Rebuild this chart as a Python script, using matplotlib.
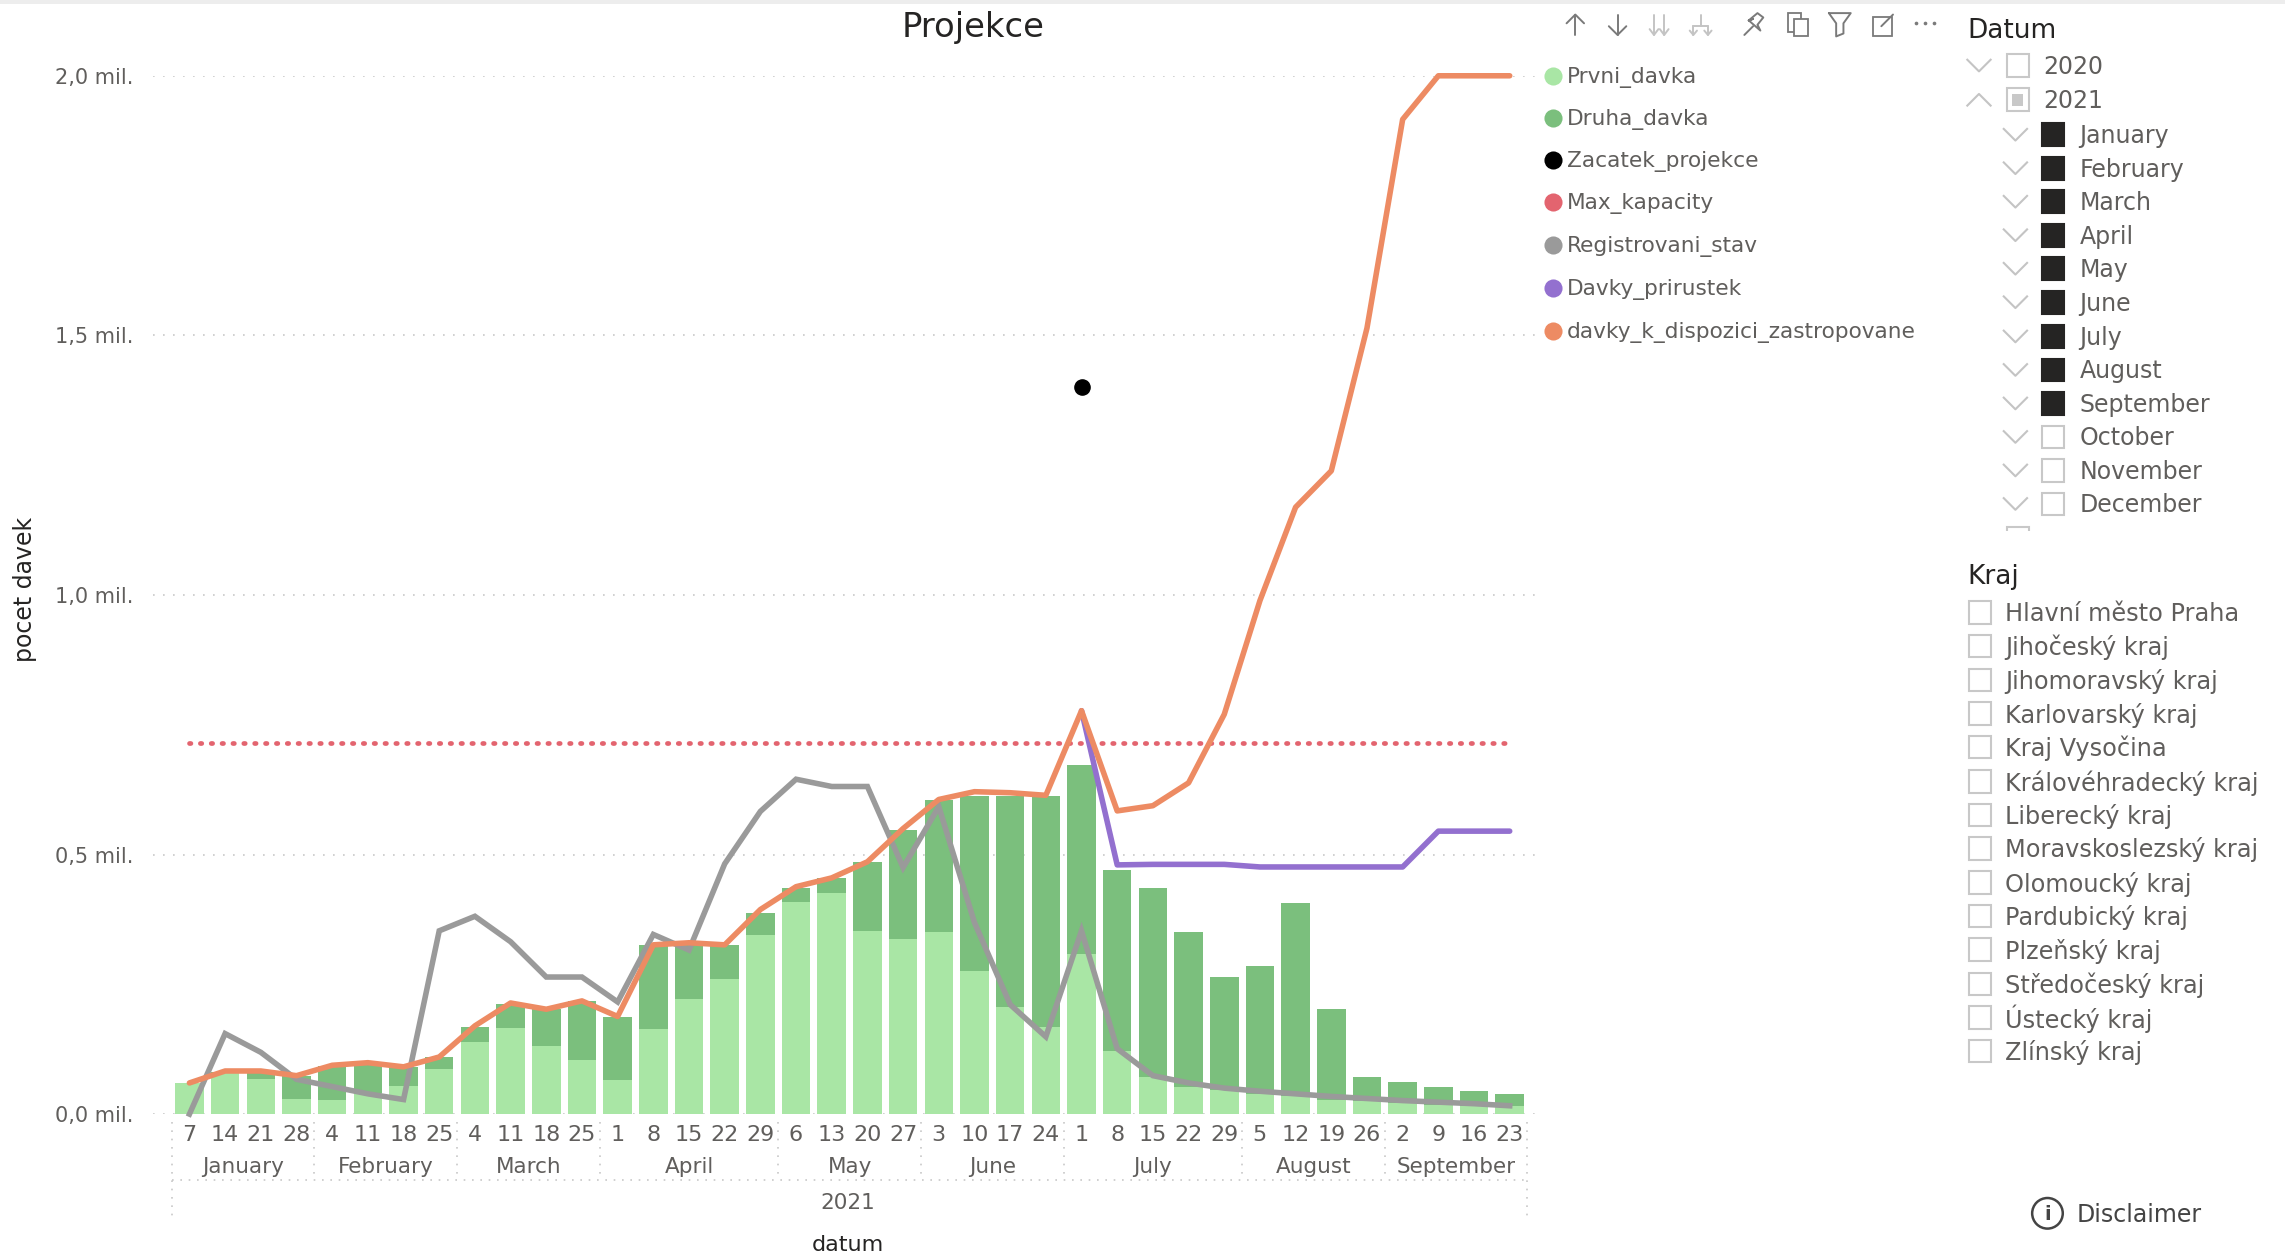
import numpy as np
import matplotlib
matplotlib.use('Agg')
import matplotlib.pyplot as plt
from matplotlib.patches import Rectangle, Circle

plt.rcParams['font.family'] = ['DejaVu Sans']

# data
months = ['January', 'February', 'March', 'April', 'May', 'June', 'July', 'August', 'September']
month_days = [[7, 14, 21, 28], [4, 11, 18, 25], [4, 11, 18, 25], [1, 8, 15, 22, 29], [6, 13, 20, 27],
              [3, 10, 17, 24], [1, 8, 15, 22, 29], [5, 12, 19, 26], [2, 9, 16, 23]]

prvni_davka = [0.060, 0.079, 0.067, 0.030, 0.028, 0.040, 0.055, 0.087, 0.138, 0.165, 0.131, 0.105, 0.065,
               0.163, 0.221, 0.260, 0.344, 0.409, 0.426, 0.352, 0.337, 0.350, 0.275, 0.206, 0.167, 0.309,
               0.121, 0.072, 0.052, 0.046, 0.039, 0.035, 0.028, 0.025, 0.021, 0.018, 0.016, 0.016]
celkem_top = [0.060, 0.081, 0.082, 0.074, 0.092, 0.096, 0.090, 0.110, 0.167, 0.213, 0.202, 0.218, 0.187,
              0.326, 0.326, 0.326, 0.388, 0.436, 0.454, 0.486, 0.548, 0.605, 0.613, 0.613, 0.613, 0.672,
              0.470, 0.436, 0.350, 0.264, 0.286, 0.406, 0.202, 0.071, 0.061, 0.053, 0.045, 0.038]
registrovani = [0.0, 0.155, 0.119, 0.067, 0.053, 0.039, 0.028, 0.353, 0.381, 0.332, 0.264, 0.264, 0.216,
                0.346, 0.316, 0.482, 0.583, 0.645, 0.631, 0.631, 0.475, 0.592, 0.369, 0.211, 0.149, 0.353,
                0.126, 0.074, 0.060, 0.050, 0.044, 0.039, 0.034, 0.030, 0.026, 0.023, 0.020, 0.016]
zastropovane = [0.060, 0.083, 0.083, 0.074, 0.094, 0.099, 0.091, 0.110, 0.170, 0.214, 0.202, 0.218, 0.188,
                0.326, 0.330, 0.326, 0.394, 0.438, 0.455, 0.486, 0.550, 0.606, 0.621, 0.619, 0.614, 0.777,
                0.584, 0.594, 0.638, 0.770, 0.989, 1.169, 1.239, 1.514, 1.916, 2.0, 2.0, 2.0]
prirustek = [0.777, 0.480, 0.481, 0.481, 0.481, 0.476, 0.476, 0.476, 0.476, 0.476, 0.545, 0.545, 0.545]
prirustek_start = 25
max_kapacity = 0.714
zacatek_projekce = 1.40
zacatek_index = 25

y_ticks = [0.0, 0.5, 1.0, 1.5, 2.0]
legend_names = ['Prvni_davka', 'Druha_davka', 'Zacatek_projekce', 'Max_kapacity', 'Registrovani_stav',
                'Davky_prirustek', 'davky_k_dispozici_zastropovane']
legend_colors = ['#A9E6A5', '#7BBF7D', '#000000', '#E3646F', '#9A9A9A', '#9370CF', '#ED8B63']

year_items = ['2020', '2021']
month_items = months + ['October', 'November', 'December']
kraje = ['Hlavní město Praha', 'Jihočeský kraj', 'Jihomoravský kraj', 'Karlovarský kraj', 'Kraj Vysočina',
         'Královéhradecký kraj', 'Liberecký kraj', 'Moravskoslezský kraj', 'Olomoucký kraj', 'Pardubický kraj',
         'Plzeňský kraj', 'Středočeský kraj', 'Ústecký kraj', 'Zlínský kraj']

W, H = 2285, 1257
S = W / 1568  # reference positions below are in the shrunk 1568 wide picture
fig = plt.figure(figsize=(W / 100, H / 100), dpi=100, facecolor='white')

# main chart
left, right, top, bottom = 105 * S, 1058 * S, 52 * S, 764.5 * S
ax = fig.add_axes([left / W, 1 - bottom / H, (right - left) / W, (bottom - top) / H])
x = np.arange(len(prvni_davka))
druha = np.array(celkem_top) - np.array(prvni_davka)
ax.bar(x, prvni_davka, width=0.8, color=legend_colors[0], zorder=2)
ax.bar(x, druha, bottom=prvni_davka, width=0.8, color=legend_colors[1], zorder=2)
ax.plot(x, [max_kapacity] * len(x), color=legend_colors[3], lw=3.4, ls=(0, (0.3, 2.0)),
        dash_capstyle='round', zorder=3)
ax.plot(x, registrovani, color=legend_colors[4], lw=4, zorder=4, solid_joinstyle='miter', clip_on=False)
ax.plot(x[prirustek_start:], prirustek, color=legend_colors[5], lw=4, zorder=5, clip_on=False,
        solid_capstyle='round')
ax.plot(x, zastropovane, color=legend_colors[6], lw=4, zorder=6, clip_on=False, solid_capstyle='round')
ax.scatter([zacatek_index], [zacatek_projekce], s=120, color='black', zorder=7)

ax.set_xlim((105 - 130) / 24.486, (1058 - 130) / 24.486)
ax.set_ylim(0, 2.0)
for s in ax.spines.values():
    s.set_visible(False)
ax.set_yticks(y_ticks)
ax.set_yticklabels([f'{v:.1f} mil.'.replace('.', ',', 1) for v in y_ticks], fontsize=15, color='#605E5C')
ax.tick_params(axis='y', length=0, pad=14)
ax.grid(axis='y', color='#C8C8C8', lw=1.2, ls=(0, (1, 5)), zorder=1)
ax.set_axisbelow(True)
day_labels = [d for days in month_days for d in days]
ax.set_xticks(x)
ax.set_xticklabels(day_labels, fontsize=16, color='#605E5C')
ax.tick_params(axis='x', length=0, pad=8)

# overlay for multi level axis and the slicers
ov = fig.add_axes([0, 0, 1, 1], facecolor='none')
ov.set_xlim(0, 1568)
ov.set_ylim(863, 0)
ov.axis('off')
ov.add_patch(Rectangle((0, 0), 1568, 2.5, color='#EDEDED', lw=0))


def px(i):
    return 130 + 24.486 * i


ov.text(17, 405, 'pocet davek', fontsize=17, color='#252423', rotation=90, ha='center', va='center')

dot = dict(color='#C8C8C8', lw=1.2, ls=(0, (1, 4)))
ov.plot([118, 1048], [810, 810], **dot)
ov.plot([118, 118], [770, 838], **dot)
ov.plot([1048, 1048], [770, 838], **dot)
start = 0
for name, days in zip(months, month_days):
    end = start + len(days)
    ov.text(px((start + end - 1) / 2), 801, name, fontsize=15.5, color='#605E5C', ha='center', va='center')
    if end < len(x):
        ov.plot([px(end - 0.5)] * 2, [770, 810], **dot)
    start = end
ov.text(582, 826, '2021', fontsize=15.5, color='#605E5C', ha='center', va='center')
ov.text(582, 855, 'datum', fontsize=16, color='#252423', ha='center', va='center')
ov.text(668, 19, 'Projekce', fontsize=24.4, color='#252423', ha='center', va='center')

# legend
legend_y = [52, 81, 110, 139, 168.5, 198, 227.5]
for name, c, ly in zip(legend_names, legend_colors, legend_y):
    ov.scatter([1066], [ly], s=170, color=c, lw=0)
    ov.text(1075, ly + 1, name, fontsize=15.6, color='#605E5C', va='center')

# header icons
ic = dict(color='#7A7A7A', lw=1.4, solid_capstyle='round')
ic2 = dict(color='#C4C4C4', lw=1.4, solid_capstyle='round')
ov.plot([1081, 1081], [10, 24], **ic)
ov.plot([1075, 1081, 1087], [16, 10, 16], **ic)
ov.plot([1110, 1110], [10, 24], **ic)
ov.plot([1104, 1110, 1116], [18, 24, 18], **ic)
for bx in [1135, 1142]:
    ov.plot([bx, bx], [10, 24], **ic2)
    ov.plot([bx - 3, bx, bx + 3], [20, 24, 20], **ic2)
ov.plot([1167, 1167], [10, 18], **ic2)
ov.plot([1162, 1172], [18, 18], **ic2)
for bx in [1162, 1172]:
    ov.plot([bx, bx], [18, 24], **ic2)
    ov.plot([bx - 2.5, bx, bx + 2.5], [21, 24, 21], **ic2)
ov.plot([1197, 1203], [24, 18], **ic)
ov.plot([1200, 1206, 1210, 1206, 1208, 1200, 1203, 1200], [14, 9, 12, 17, 21, 14, 13, 14], **ic)
ov.add_patch(Rectangle((1227, 9), 9, 13, fc='none', ec='#7A7A7A', lw=1.3))
ov.add_patch(Rectangle((1231, 13), 10, 12, fc='white', ec='#7A7A7A', lw=1.3))
ov.plot([1255, 1270, 1265, 1265, 1260, 1260, 1255], [9, 9, 16, 23, 25, 16, 9], **ic)
ov.add_patch(Rectangle((1285, 12), 13, 13, fc='none', ec='#7A7A7A', lw=1.3))
ov.plot([1291, 1299], [18, 10], **ic)
ov.scatter([1315, 1321, 1327], [16, 16, 16], s=7, color='#7A7A7A', lw=0)


def chevron(cx, cy, up=False, **kw):
    d = -1 if up else 1
    return ov.plot([cx - 8, cx, cx + 8], [cy - 4 * d, cy + 4 * d, cy - 4 * d], color='#C4C4C4', lw=1.5, **kw)


def box(bx, cy, size=15.5, fill='white', ec='#C8C8C8'):
    ov.add_patch(Rectangle((bx, cy - size / 2), size, size, fc=fill, ec=ec, lw=1.5))


# Datum slicer
ov.text(1350, 21, 'Datum', fontsize=19, color='#252423', va='center')
year_y = [45, 68.5]
for name, cy, up in zip(year_items, year_y, [False, True]):
    chevron(1358, cy, up=up)
    box(1377, cy)
    ov.text(1402, cy + 1, name, fontsize=17, color='#605E5C', va='center')
ov.add_patch(Rectangle((1381, 64.5), 7.5, 8, fc='#C8C8C8', lw=0))
month_y = [92.5, 115.5, 138.5, 161.5, 184.5, 207.5, 231, 254, 277, 300, 323, 346]
for i, (name, cy) in enumerate(zip(month_items, month_y)):
    chevron(1383, cy)
    if i < 9:
        box(1401, cy, fill='#252423', ec='#252423')
    else:
        box(1401, cy)
    ov.text(1427, cy + 1, name, fontsize=17, color='#605E5C', va='center')
# next year cut off by the slicer edge
clip = Rectangle((1340, 355), 200, 9.5, transform=ov.transData)
for art in chevron(1358, 372):
    art.set_clip_path(clip)
cut_box = Rectangle((1377, 362), 15.5, 15.5, fc='white', ec='#C8C8C8', lw=1.5)
ov.add_patch(cut_box)
cut_box.set_clip_path(clip)
cut_text = ov.text(1402, 372, '2022', fontsize=17, color='#605E5C', va='center')
cut_text.set_clip_on(True)
cut_text.set_clip_path(clip)

# Kraj slicer
ov.text(1350, 396, 'Kraj', fontsize=19, color='#252423', va='center')
kraj_y = [420.5, 443.5, 467, 490, 513, 536.5, 559.5, 582.5, 606, 629, 652, 675.5, 698.5, 721.5]
for name, cy in zip(kraje, kraj_y):
    box(1351, cy)
    ov.text(1376, cy + 1, name, fontsize=17.3, color='#605E5C', va='center')

ov.add_patch(Circle((1405, 833), 10.5, fc='none', ec='#444444', lw=1.8))
ov.text(1405, 833.5, 'i', fontsize=14, color='#444444', ha='center', va='center', fontweight='bold')
ov.text(1425, 834, 'Disclaimer', fontsize=17, color='#444444', va='center')

fig.savefig('out.png', dpi=100)
